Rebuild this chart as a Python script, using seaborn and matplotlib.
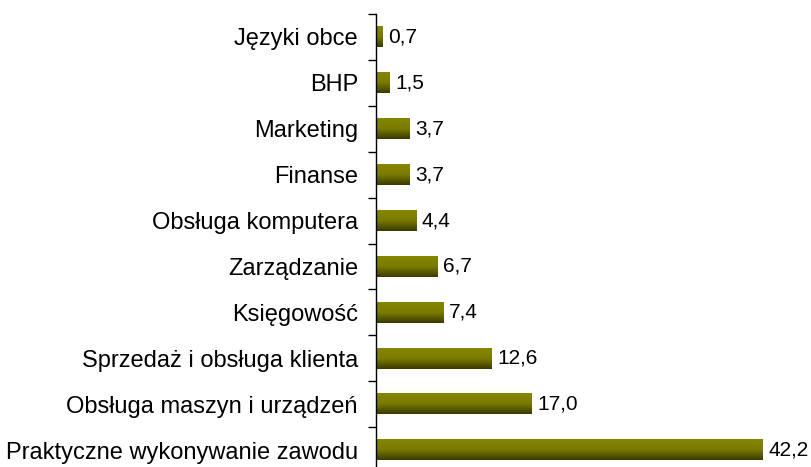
import numpy as np
import pandas as pd
import seaborn as sns
import matplotlib.pyplot as plt
from matplotlib.colors import LinearSegmentedColormap
from matplotlib.ticker import FixedLocator

categories = ['Języki obce', 'BHP', 'Marketing', 'Finanse', 'Obsługa komputera',
              'Zarządzanie', 'Księgowość', 'Sprzedaż i obsługa klienta',
              'Obsługa maszyn i urządzeń', 'Praktyczne wykonywanie zawodu']
values = [0.7, 1.5, 3.7, 3.7, 4.4, 6.7, 7.4, 12.6, 17.0, 42.2]

df = pd.DataFrame({'kategoria': categories, 'wartosc': values})

sns.set_style('white')
plt.rcParams['font.family'] = ['Liberation Sans', 'DejaVu Sans']

fig = plt.figure(figsize=(8.12, 4.67), dpi=100)
ax = fig.add_axes([376 / 812, -6 / 467, 1 - 376 / 812, 459 / 467])

sns.barplot(data=df, x='wartosc', y='kategoria', orient='h',
            color='#808000', width=0.45, ax=ax)

# vertical gradient on each bar: olive on top, dark at the bottom
cmap = LinearSegmentedColormap.from_list('olive', ['#868600', '#7a7a00', '#3a3a00'])
grad = np.linspace(0, 1, 64).reshape(-1, 1)
for p in ax.patches:
    x0, y0 = p.get_x(), p.get_y()
    w, h = p.get_width(), p.get_height()
    p.set_visible(False)
    ax.imshow(grad, cmap=cmap, aspect='auto', interpolation='bicubic',
              extent=(x0, x0 + w, y0 + h, y0), zorder=2)

for i, v in enumerate(values):
    ax.text(v + 0.6, i, f'{v:.1f}'.replace('.', ','), va='center', ha='left',
            fontsize=15, color='black')

ax.set_xlim(0, 47.6)
ax.set_ylim(len(categories) - 0.5, -0.5)
ax.set_xlabel('')
ax.set_ylabel('')
ax.set_xticks([])

for s in ['top', 'right', 'bottom']:
    ax.spines[s].set_visible(False)
ax.spines['left'].set_color('black')
ax.spines['left'].set_linewidth(1)

ax.tick_params(axis='y', which='major', length=0, pad=13, labelsize=17,
               labelcolor='black')
ax.yaxis.set_minor_locator(FixedLocator(np.arange(-0.5, len(categories), 1)))
ax.tick_params(axis='y', which='minor', left=True, length=6, width=1, color='black')

fig.savefig('out.png', dpi=100)
